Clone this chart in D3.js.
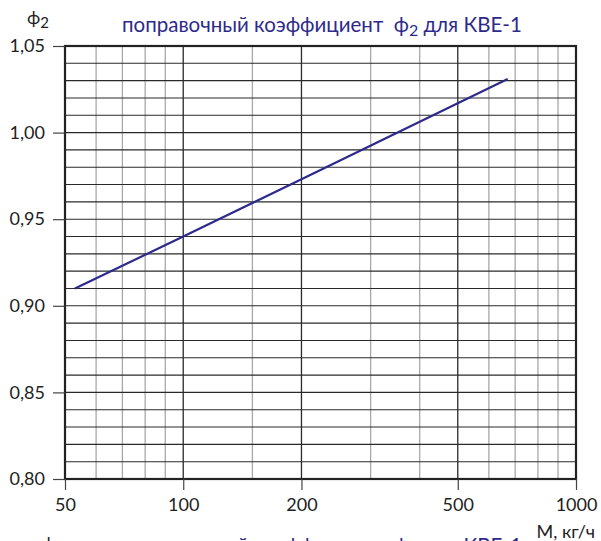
<!DOCTYPE html>
<html>
<head>
<meta charset="utf-8">
<script src="https://cdn.jsdelivr.net/npm/d3@7"></script>
<style>
  body { margin: 0; background: #fff; }
  svg text { font-family: Lato, "Open Sans", sans-serif; }
</style>
</head>
<body>
<div id="wrapper"></div>
<script>
// values
var flowM = [53, 100, 200, 500, 670]
var phi2 = [0.910, 0.940, 0.973, 1.017, 1.031]

var xTickValues = [50, 100, 200, 500, 1000]
var xTickLabels = ["50", "100", "200", "500", "1000"]
var xMinorGrid = [60, 70, 80, 90, 150, 300, 400, 600, 700, 800, 900]
var xMajorGrid = [100, 200, 500]
var yTickValues = [0.80, 0.85, 0.90, 0.95, 1.00, 1.05]
var yTickLabels = ["0,80", "0,85", "0,90", "0,95", "1,00", "1,05"]
var yGrid = d3.range(81, 105).map(d => d / 100)

var titleText = "поправочный коэффициент  "
var xAxisTitle = "M, кг/ч"

var dimension = {
    width: 601,
    height: 541,
    margin: { top: 46, right: 25, bottom: 62, left: 65 }
}
dimension.boundedWidth = dimension.width - dimension.margin.left - dimension.margin.right
dimension.boundedHeight = dimension.height - dimension.margin.top - dimension.margin.bottom

var blue = "#2e2a8c"

const root = d3.select("#wrapper")
    .append("svg")
    .attr("width", dimension.width)
    .attr("height", dimension.height)

const svg = root.append("g")
    .attr("transform", `translate(${dimension.margin.left},${dimension.margin.top})`)

var x = d3.scaleLog()
    .domain([50, 1000])
    .range([0, dimension.boundedWidth])

var y = d3.scaleLinear()
    .domain([0.80, 1.05])
    .range([dimension.boundedHeight, 0])

// grid
svg.append("g")
    .selectAll("line")
    .data(xMinorGrid)
    .enter()
    .append("line")
    .attr("x1", d => x(d)).attr("x2", d => x(d))
    .attr("y1", 0).attr("y2", dimension.boundedHeight)
    .style("stroke", "#a8a8a8")
    .style("stroke-width", 1.3)

svg.append("g")
    .selectAll("line")
    .data(yGrid)
    .enter()
    .append("line")
    .attr("x1", 0).attr("x2", dimension.boundedWidth)
    .attr("y1", d => y(d)).attr("y2", d => y(d))
    .style("stroke", "#2a2a2a")
    .style("stroke-width", 1.1)

svg.append("g")
    .selectAll("line")
    .data(xMajorGrid)
    .enter()
    .append("line")
    .attr("x1", d => x(d)).attr("x2", d => x(d))
    .attr("y1", 0).attr("y2", dimension.boundedHeight)
    .style("stroke", "#2a2a2a")
    .style("stroke-width", 1.3)

// frame
svg.append("rect")
    .attr("x", 0).attr("y", 0)
    .attr("width", dimension.boundedWidth)
    .attr("height", dimension.boundedHeight)
    .style("fill", "none")
    .style("stroke", "#222")
    .style("stroke-width", 2.2)

// axes
const xAxis = svg.append("g")
    .attr("transform", `translate(0,${dimension.boundedHeight})`)
    .call(d3.axisBottom(x)
        .tickValues(xTickValues)
        .tickFormat((d, i) => xTickLabels[i])
        .tickSize(11)
        .tickPadding(8))
xAxis.select(".domain").remove()
xAxis.selectAll("line").style("stroke", "#444").style("stroke-width", 1.2)
xAxis.selectAll("text")
    .style("font-size", "18px")
    .style("fill", "#222")

const yAxis = svg.append("g")
    .call(d3.axisLeft(y)
        .tickValues(yTickValues)
        .tickFormat((d, i) => yTickLabels[i])
        .tickSize(12)
        .tickPadding(8))
yAxis.select(".domain").remove()
yAxis.selectAll("line").style("stroke", "#444").style("stroke-width", 1.2)
yAxis.selectAll("text")
    .style("font-size", "18px")
    .style("fill", "#222")

// data line
var points = flowM.map((m, i) => [m, phi2[i]])
svg.append("path")
    .datum(points)
    .attr("d", d3.line().x(d => x(d[0])).y(d => y(d[1])))
    .style("fill", "none")
    .style("stroke", blue)
    .style("stroke-width", 2.2)

// y axis title
var yTitle = root.append("text")
    .attr("x", 27).attr("y", 24)
    .style("font-size", "18px")
    .style("fill", "#222")
yTitle.append("tspan").text("ϕ")
yTitle.append("tspan").attr("dy", 4).style("font-size", "15px").text("2")

// chart title
function drawTitle(yPos) {
    var t = root.append("text")
        .attr("x", 122).attr("y", yPos)
        .style("font-size", "20.5px")
        .style("white-space", "pre")
        .style("fill", blue)
    t.append("tspan").text(titleText)
    t.append("tspan").text("ϕ")
    t.append("tspan").attr("dy", 4).style("font-size", "16px").text("2")
    t.append("tspan").attr("dy", -4).text(" для КВЕ-1")
}
drawTitle(32)
// next chart's title, cut by the page edge
drawTitle(553)
root.append("text")
    .attr("x", 42).attr("y", 550)
    .style("font-size", "18px")
    .style("fill", "#222")
    .text("ϕ")

// x axis title
root.append("text")
    .attr("x", 595).attr("y", 538)
    .attr("text-anchor", "end")
    .style("font-size", "18px")
    .style("fill", "#222")
    .text(xAxisTitle)
</script>
</body>
</html>
